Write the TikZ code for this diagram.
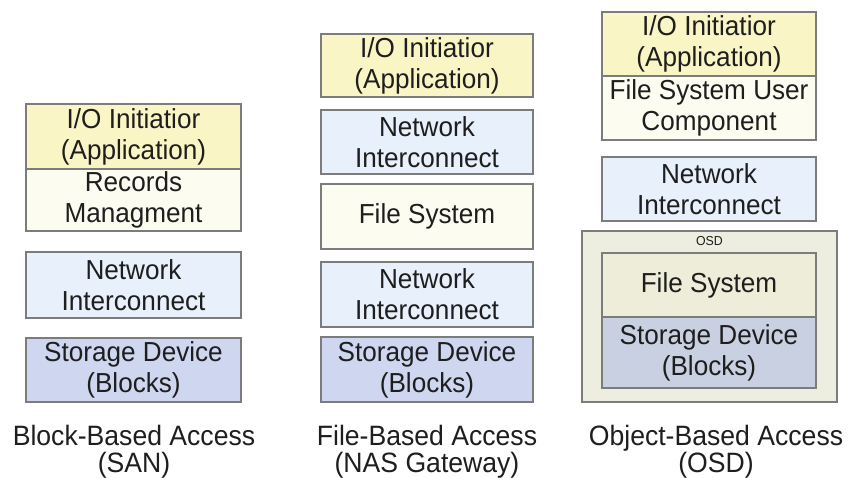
\documentclass[tikz,border=0pt]{standalone}
\usepackage{fontspec}
\setmainfont{Liberation Sans}[FakeStretch=0.95]
\usetikzlibrary{calc}

\definecolor{appyellow}{HTML}{FAF5C4}
\definecolor{usrwhite}{HTML}{FDFCF1}
\definecolor{netblue}{HTML}{E7F0FB}
\definecolor{storblue}{HTML}{CED6F0}
\definecolor{osdgray}{HTML}{EEEEE0}
\definecolor{fsbeige}{HTML}{EEEDD9}
\definecolor{osdstor}{HTML}{C9D0E2}
\definecolor{framegray}{HTML}{7C7C7C}
\definecolor{textgray}{HTML}{1E1E1E}

\tikzset{
  layer/.style={draw=framegray, line width=1.4pt, inner sep=0pt, align=center,
    text=textgray, font=\fontsize{27.5}{31}\selectfont},
  caption/.style={align=center, text=textgray, font=\fontsize{28}{27}\selectfont},
}

\begin{document}
\begin{tikzpicture}[x=1pt,y=-1pt]
        \useasboundingbox (0,0) rectangle (848,477);
        \fill[white] (0,0) rectangle (848,477);

        \node[layer, fill=appyellow, minimum width=215pt, minimum height=65pt] (sanio) at (133.5,136.5) {I/O Initiatior\\(Application)};
        \node[layer, fill=usrwhite, minimum width=215pt, minimum height=62pt] (sanrec) at (133.5,200) {Records\\Managment};
        \node[layer, fill=netblue, minimum width=215pt, minimum height=66pt] (sannet) at (133.5,285) {Network\\Interconnect};
        \node[layer, fill=storblue, minimum width=215pt, minimum height=64pt] (sansto) at (133.5,370) {Storage Device\\(Blocks)};
        \node[caption] (sancap) at (134,452) {Block-Based Access\\(SAN)};

        \node[layer, fill=appyellow, minimum width=212pt, minimum height=63pt] (nasio) at (427,65.5) {I/O Initiatior\\(Application)};
        \node[layer, fill=netblue, minimum width=212pt, minimum height=64pt] (nasneta) at (427,142) {Network\\Interconnect};
        \node[layer, fill=usrwhite, minimum width=212pt, minimum height=65pt] (nasfs) at (427,216.5) {File System};
        \node[layer, fill=netblue, minimum width=212pt, minimum height=65pt] (nasnetb) at (427,294.5) {Network\\Interconnect};
        \node[layer, fill=storblue, minimum width=212pt, minimum height=65pt] (nassto) at (427,369.5) {Storage Device\\(Blocks)};
        \node[caption] (nascap) at (427,452) {File-Based Access\\(NAS Gateway)};

        \node[layer, fill=appyellow, minimum width=214pt, minimum height=64pt] (osdio) at (709,44) {I/O Initiatior\\(Application)};
        \node[layer, fill=usrwhite, minimum width=214pt, minimum height=64pt] (osdusr) at (709,108) {File System User\\Component};
        \node[layer, fill=netblue, minimum width=214pt, minimum height=64pt] (osdnet) at (709,189) {Network\\Interconnect};
        \node[layer, fill=osdgray, minimum width=255pt, minimum height=171pt] (osdbox) at (709.5,316.5) {};
        \node[text=textgray, font=\fontsize{13}{15}\selectfont] (osdlbl) at (709.5,241) {OSD};
        \node[layer, fill=fsbeige, minimum width=214pt, minimum height=64pt] (osdfs) at (709,285) {File System};
        \node[layer, fill=osdstor, minimum width=214pt, minimum height=71pt] (osdsto) at (709,352.5) {Storage Device\\(Blocks)};
        \node[caption] (osdcap) at (716,452) {Object-Based Access\\(OSD)};
\end{tikzpicture}
\end{document}
